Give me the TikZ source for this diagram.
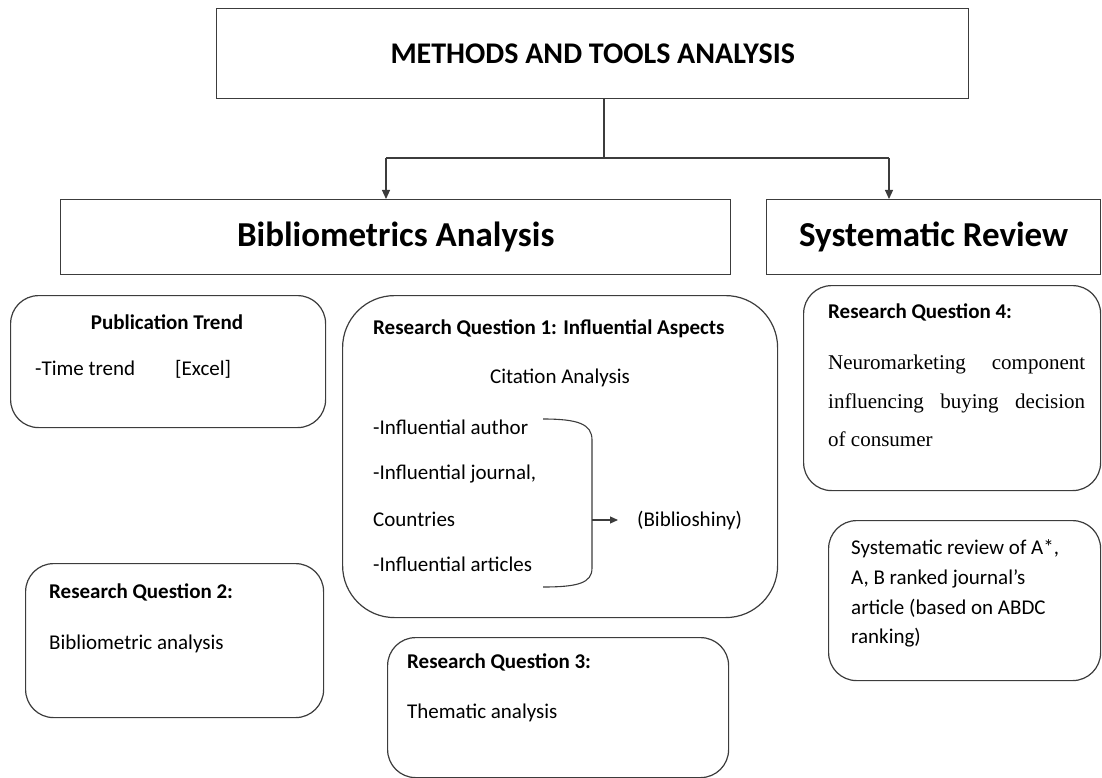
\documentclass[tikz,border=0pt]{standalone}
\usepackage{fontspec}
\setmainfont{Carlito}
\newfontfamily\tnr{Liberation Serif}
\usetikzlibrary{arrows.meta}
\definecolor{ln}{HTML}{3C3C3C}
\begin{document}
\begin{tikzpicture}[x=1pt,y=-1pt,
  sq/.style={draw=ln, line width=1.4pt, rectangle, inner sep=0pt, anchor=north west},
  rbox/.style={draw=ln, line width=1.2pt, rectangle, rounded corners=28pt, inner sep=0pt, anchor=north west},
  conn/.style={draw=ln, line width=1.1pt},
  tip/.style={-{Triangle[length=9pt,width=8pt]}},
  tx/.style={inner sep=0pt, text height=16pt, text depth=4pt, anchor=west, font=\fontsize{21}{25}\selectfont},
  txb/.style={tx, font=\fontsize{21}{25}\selectfont\bfseries},
  txs/.style={tx, font=\fontsize{21}{25}\selectfont\tnr},
]
\useasboundingbox (0,0) rectangle (1102,778);

% header boxes
\node[sq, minimum width=752pt, minimum height=90pt, font=\fontsize{30}{34}\selectfont\bfseries] (top) at (216,8) {METHODS AND TOOLS ANALYSIS};
\node[sq, minimum width=670pt, minimum height=75pt, font=\fontsize{35}{40}\selectfont\bfseries] (bib) at (60,199) {Bibliometrics Analysis};
\node[sq, minimum width=334pt, minimum height=75pt, font=\fontsize{35}{40}\selectfont\bfseries] (sys) at (766,199) {Systematic Review};

% connectors
\coordinate (j) at (604,158);
\coordinate (jl) at (386,158);
\coordinate (jr) at (889,158);
\draw[conn] (top.south -| j) -- (j);
\draw[conn] (jl) -- (jr);
\draw[conn, tip] (jl) -- (jl |- bib.north);
\draw[conn, tip] (jr) -- (jr |- sys.north);

% rounded boxes
\node[rbox, minimum width=315pt, minimum height=132pt] (pt) at (10,295) {};
\node[rbox, rounded corners=52pt, minimum width=435pt, minimum height=322pt] (rq1) at (342,295) {};
\node[rbox, minimum width=297pt, minimum height=205pt] (rq4) at (803,285) {};
\node[rbox, minimum width=272pt, minimum height=160pt] (srv) at (828,520) {};
\node[rbox, minimum width=298pt, minimum height=154pt] (rq2) at (25,563) {};
\node[rbox, minimum width=341pt, minimum height=140pt] (rq3) at (387,637) {};

% publication trend
\node[txb, anchor=center] (pth) at (167,323) {Publication Trend};
\node[tx] (ptt) at (35,369) {-Time trend};
\node[tx] (pte) at (175,369) {[Excel]};

% RQ1
\node[txb] (r1h) at (373,328) {Research Question 1: Influential Aspects};
\node[tx, anchor=center] (r1c) at (560,377) {Citation Analysis};
\node[tx] (r1a) at (373,428) {-Influential author};
\node[tx] (r1b) at (373,473) {-Influential journal,};
\node[tx] (r1d) at (373,520) {Countries};
\node[tx] (r1e) at (373,565) {-Influential articles};
\node[tx] (bibl) at (637,520) {(Biblioshiny)};
\draw[conn] (543,419) .. controls (578,419) and (592,424) .. (592,440) -- (592,568) .. controls (592,583) and (578,587) .. (543,587);
\coordinate (bm) at (592,520);
\draw[conn, -{Triangle[length=8pt,width=7pt]}] (bm) -- ([xshift=-19pt]bibl.west);

% RQ4
\node[txb] (r4h) at (828,312) {Research Question 4:};
\node[txs] (r4a) at (828,363) {\hbox to 257pt{Neuromarketing\hfill component}};
\node[txs] (r4b) at (828,402) {\hbox to 257pt{influencing\hfill buying\hfill decision}};
\node[txs] (r4c) at (828,440) {of consumer};

% systematic review sub box
\node[tx] (s1) at (851,548) {Systematic review of A*,};
\node[tx] (s2) at (851,578) {A, B ranked journal’s};
\node[tx] (s3) at (851,608) {article (based on ABDC};
\node[tx] (s4) at (851,637) {ranking)};

% RQ2
\node[txb] (r2h) at (49,592) {Research Question 2:};
\node[tx] (r2b) at (49,643) {Bibliometric analysis};

% RQ3
\node[txb] (r3h) at (407,662) {Research Question 3:};
\node[tx] (r3b) at (407,712) {Thematic analysis};
\end{tikzpicture}
\end{document}
